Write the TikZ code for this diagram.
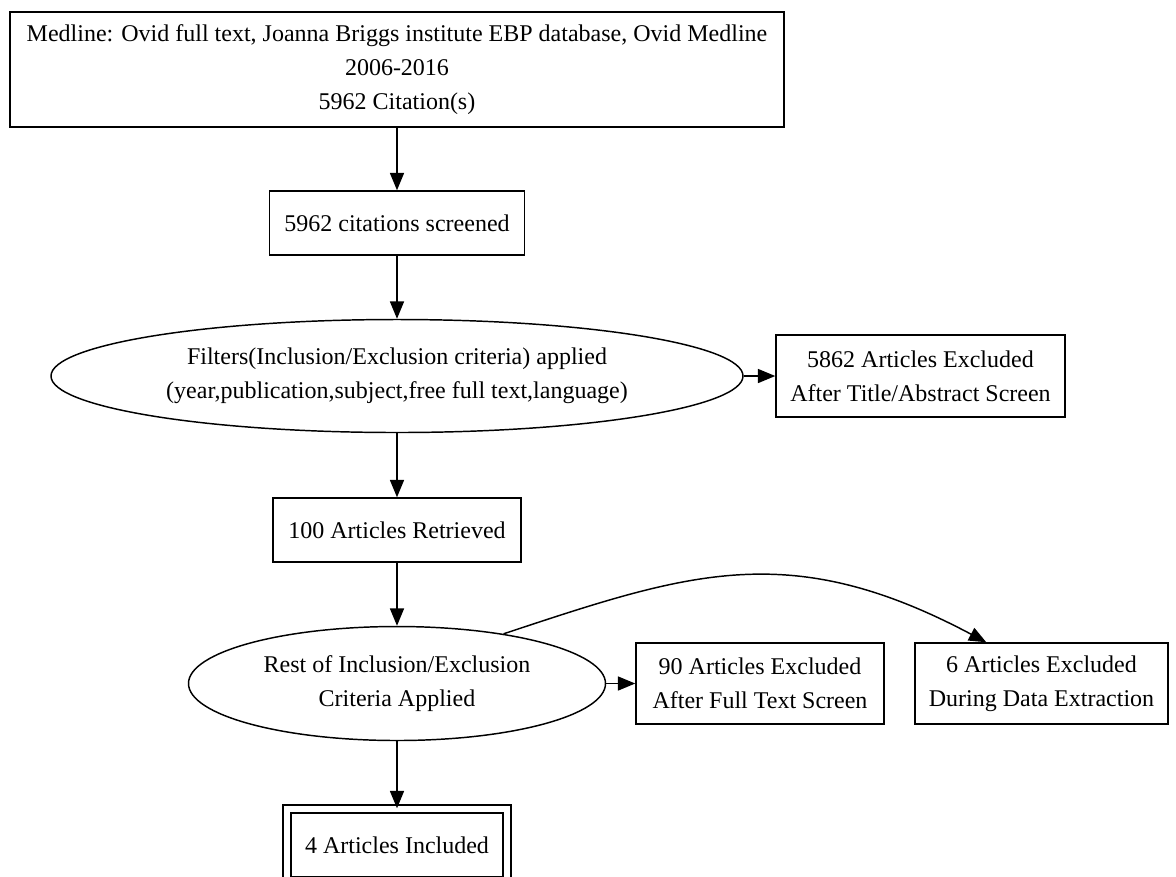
\documentclass[tikz,border=0pt]{standalone}
\usepackage{fontspec}
\setmainfont{Liberation Serif}
\usetikzlibrary{arrows.meta,shapes.geometric,calc}
\tikzset{
  lbl/.style={font=\fontsize{18}{25.2}\selectfont, align=center, inner sep=0pt,
              line width=1.1pt, draw=black},
  rbox/.style={lbl, rectangle},
  oval/.style={lbl, ellipse},
  link/.style={line width=1.1pt, -{Triangle[length=13pt,width=10.5pt]}},
}
\begin{document}
\begin{tikzpicture}[x=0.75pt,y=-0.75pt]
\useasboundingbox (0,0) rectangle (1176,876);

% main column
\node[rbox, minimum width=580.5pt, minimum height=86.25pt] (src) at (397,69.5)
  {Medline: Ovid full text, Joanna Briggs institute EBP database, Ovid Medline\\2006-2016\\5962 Citation(s)};
\node[rbox, minimum width=191.25pt, minimum height=48pt] (screen) at (397,223)
  {5962 citations screened};
\node[oval, minimum width=519pt, minimum height=84.75pt] (filter) at (397,376)
  {Filters(Inclusion/Exclusion criteria) applied\\(year,publication,subject,free full text,language)};
\node[rbox, minimum width=186pt, minimum height=48pt] (retr) at (397,530)
  {100 Articles Retrieved};
\node[oval, minimum width=312.75pt, minimum height=85.5pt] (rest) at (397,683.5)
  {Rest of Inclusion/Exclusion\\Criteria Applied};
\node[rbox, double, double distance=4.9pt, minimum width=165pt, minimum height=54pt] (incl) at (397,845)
  {4 Articles Included};

% exclusion boxes
\node[rbox, minimum width=216.75pt, minimum height=61.5pt] (exA) at (920.5,376)
  {5862 Articles Excluded\\After Title/Abstract Screen};
\node[rbox, minimum width=186pt, minimum height=60.75pt] (exB) at (760,683.5)
  {90 Articles Excluded\\After Full Text Screen};
\node[rbox, minimum width=189.75pt, minimum height=60.75pt] (exC) at (1041.5,683.5)
  {6 Articles Excluded\\During Data Extraction};

% connectors
\draw[link] (src) -- (screen);
\draw[link] (screen) -- (filter);
\draw[link] (filter) -- (retr);
\draw[link] (retr) -- (rest);
\draw[link] (rest) -- (incl);
\draw[link] (filter.east) -- (exA.west);
\draw[link] (rest.east) -- (exB.west);
\coordinate (exCin) at ($(exC.north west)!0.283!(exC.north east)$);
\draw[link] (rest.25) .. controls (690,572) and (790,538) .. (exCin);
\end{tikzpicture}
\end{document}
